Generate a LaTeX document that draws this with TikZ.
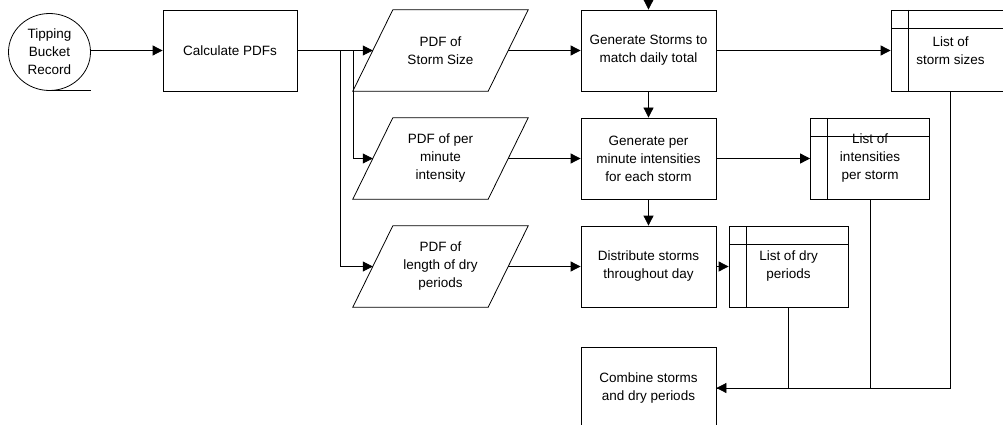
\documentclass[tikz,border=0pt]{standalone}
\usepackage{fontspec}
\setmainfont{Liberation Sans}
\usetikzlibrary{arrows.meta,shapes.geometric}
\begin{document}
\begin{tikzpicture}[x=1pt,y=-1pt,
  every node/.style={font=\fontsize{13.5}{18}\selectfont, align=center, inner sep=0pt},
  line/.style={line width=0.8pt, draw=black},
  arr/.style={line, -{Triangle[length=10pt,width=10pt]}},
  procbox/.style={draw, line width=0.8pt, rectangle, minimum width=135pt, minimum height=81pt},
  iobox/.style={rectangle, minimum width=135pt, minimum height=81pt},
  storebox/.style={draw, line width=0.8pt, rectangle, minimum width=119pt, minimum height=81pt,
    path picture={
      \draw[line width=0.8pt] ([xshift=17pt]path picture bounding box.north west) -- ([xshift=17pt]path picture bounding box.south west);
      \draw[line width=0.8pt] ([yshift=-18pt]path picture bounding box.north west) -- ([yshift=-18pt]path picture bounding box.north east);
    }},
  seqbox/.style={draw, line width=0.8pt, ellipse, minimum width=82pt, minimum height=77pt}
]
\useasboundingbox (0,0) rectangle (1003,425);
\clip (0,0) rectangle (1003,425);

% source
\node[seqbox] (tbr) at (49.5,52) {Tipping\\Bucket\\Record};
\draw[line] (tbr.south) -- ++(41.5pt,0) coordinate (tbrtail);

% process
\node[procbox, minimum width=134pt] (calc) at (230,50.5) {Calculate PDFs};

% pdf parallelograms
\node[iobox] (p1) at (440.5,50.5) {PDF of\\Storm Size};
\node[iobox] (p2) at (440.5,158.5) {PDF of per\\minute\\intensity};
\node[iobox] (p3) at (440.5,266.5) {PDF of\\length of dry\\periods};
\foreach \p in {p1,p2,p3}{
  \draw[line] ([xshift=20pt]\p.north west) -- ([xshift=20pt]\p.north east)
    -- ([xshift=-20pt]\p.south east) -- ([xshift=-20pt]\p.south west) -- cycle;
}

% generation steps
\node[procbox] (gs) at (648.5,50.5) {Generate Storms to\\match daily total};
\node[procbox] (gi) at (648.5,158.5) {Generate per\\minute intensities\\for each storm};
\node[procbox] (ds) at (648.5,266.5) {Distribute storms\\throughout day};
\node[procbox] (cb) at (648.5,388) {Combine storms\\and dry periods};

% stores
\node[storebox] (l1) at (950.5,50.5) {List of\\storm sizes};
\node[storebox] (l2) at (870,158.5) {List of\\intensities\\per storm};
\node[storebox] (l3) at (788.5,266.5) {List of dry\\periods};

\coordinate (topin) at (648.5,-5);

% connectors
\draw[arr] (tbr.east |- calc.west) -- (calc.west);
\draw[arr] (calc.east) -- (p1.west);
\draw[arr] ([xshift=56pt]calc.east) |- (p2.west);
\draw[arr] ([xshift=43pt]calc.east) |- (p3.west);
\draw[arr] (p1.east) -- (gs.west);
\draw[arr] (p2.east) -- (gi.west);
\draw[arr] (p3.east) -- (ds.west);
\draw[arr] (topin) -- (gs.north);
\draw[arr] (gs.south) -- (gi.north);
\draw[arr] (gi.south) -- (ds.north);
\draw[arr] (gs.east) -- (l1.west);
\draw[arr] (gi.east) -- (l2.west);
\draw[arr] (ds.east) -- (l3.west);
\draw[line] (l2.south) |- (cb.east);
\draw[line] (l3.south) |- (cb.east);
\draw[arr] (l1.south) |- (cb.east);
\end{tikzpicture}
\end{document}
